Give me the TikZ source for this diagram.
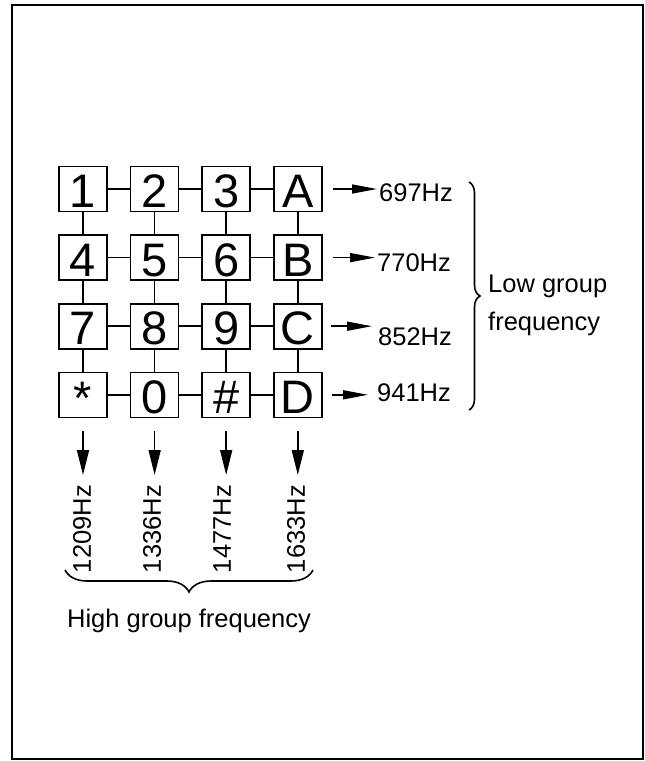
\documentclass[tikz,border=0pt]{standalone}
\usepackage{fontspec}
\setmainfont{Liberation Sans}
\usetikzlibrary{arrows.meta, positioning, decorations.pathreplacing}

\begin{document}
\begin{tikzpicture}[
    x=1pt, y=-1pt,
    node distance=22pt and 22pt,
    keybox/.style={
        draw,
        minimum width=48pt,
        minimum height=45pt,
        inner sep=0pt,
        text height=37pt,
        text depth=0pt,
        line width=1.6pt,
        font=\fontsize{47}{47}\selectfont
    },
    wire/.style={
        line width=1.5pt
    },
    arrow/.style={
        -{Triangle[length=25pt, width=10pt]},
        line width=1.5pt
    },
    freq/.style={
        font=\fontsize{25.5}{38}\selectfont,
        inner sep=2pt
    },
    groupbrace/.style={
        decorate,
        line width=1.6pt
    }
]

\useasboundingbox (0,0) rectangle (645,761);
\draw[line width=2.5pt] (12,5) rectangle (643,759);

% keypad
\node[keybox] (k1) at (83,189) {1};
\node[keybox, right=of k1] (k2) {2};
\node[keybox, right=of k2] (k3) {3};
\node[keybox, right=of k3] (kA) {A};

\node[keybox, below=of k1] (k4) {4};
\node[keybox, right=of k4] (k5) {5};
\node[keybox, right=of k5] (k6) {6};
\node[keybox, right=of k6] (kB) {B};

\node[keybox, below=of k4] (k7) {7};
\node[keybox, right=of k7] (k8) {8};
\node[keybox, right=of k8] (k9) {9};
\node[keybox, right=of k9] (kC) {C};

\node[keybox, below=of k7] (kstar) {\raisebox{-1pt}{*}};
\node[keybox, right=of kstar] (k0) {0};
\node[keybox, right=of k0] (khash) {\#};
\node[keybox, right=of khash] (kD) {D};

% row wires
\draw[wire] (k1) -- (k2) -- (k3) -- (kA);
\draw[wire] (k4) -- (k5) -- (k6) -- (kB);
\draw[wire] (k7) -- (k8) -- (k9) -- (kC);
\draw[wire] (kstar) -- (k0) -- (khash) -- (kD);

% column wires
\draw[wire] (k1) -- (k4) -- (k7) -- (kstar);
\draw[wire] (k2) -- (k5) -- (k8) -- (k0);
\draw[wire] (k3) -- (k6) -- (k9) -- (khash);
\draw[wire] (kA) -- (kB) -- (kC) -- (kD);

% low group
\node[freq, anchor=west] (f697) at (377,193) {697Hz};
\node[freq, anchor=west] (f770) at (375,263) {770Hz};
\node[freq, anchor=west] (f852) at (376,337) {852Hz};
\node[freq, anchor=west] (f941) at (375,393) {941Hz};

\draw[arrow, -{Triangle[length=25pt, width=9pt]}] ([xshift=10pt]kA.east) -- (kA.east -| f697.west);
\draw[arrow, -{Triangle[length=25pt, width=9pt]}] ([xshift=10pt]kB.east) -- (kB.east -| f770.west);
\draw[arrow, -{Triangle[length=25pt, width=9pt]}] ([xshift=8pt]kC.east) -- ([xshift=-4pt]kC.east -| f852.west);
\draw[arrow, -{Triangle[length=25pt, width=9pt]}] ([xshift=9pt]kD.east) -- ([xshift=-7pt]kD.east -| f941.west);

\coordinate (lowtop) at (469,182);
\coordinate (lowbot) at (469,410);
\draw[groupbrace, decoration={brace, amplitude=11pt}] (lowtop) -- (lowbot);
\node[freq, anchor=west, align=left] (low) at (486,305) {Low group\\frequency};

% high group
\node[freq, rotate=90, anchor=east] (f1209) at (82,483) {1209Hz};
\node[freq, rotate=90, anchor=east] (f1336) at (152,483) {1336Hz};
\node[freq, rotate=90, anchor=east] (f1477) at (222,483) {1477Hz};
\node[freq, rotate=90, anchor=east] (f1633) at (296,483) {1633Hz};

\draw[arrow, -{Triangle[length=25pt, width=12pt]}, shorten >=8pt] ([yshift=-13pt]kstar.south) -- (kstar.south |- f1209.east);
\draw[arrow, -{Triangle[length=25pt, width=12pt]}, shorten >=8pt] ([yshift=-13pt]k0.south) -- (k0.south |- f1336.east);
\draw[arrow, -{Triangle[length=25pt, width=12pt]}, shorten >=8pt] ([yshift=-13pt]khash.south) -- (khash.south |- f1477.east);
\draw[arrow, -{Triangle[length=25pt, width=12pt]}, shorten >=8pt] ([yshift=-13pt]kD.south) -- (kD.south |- f1633.east);

\coordinate (highright) at (313,570);
\coordinate (highleft) at (65,570);
\draw[groupbrace, decoration={brace, amplitude=22pt}] (highright) -- (highleft);
\node[freq, anchor=base] (high) at (189,627) {High group frequency};

\end{tikzpicture}
\end{document}
